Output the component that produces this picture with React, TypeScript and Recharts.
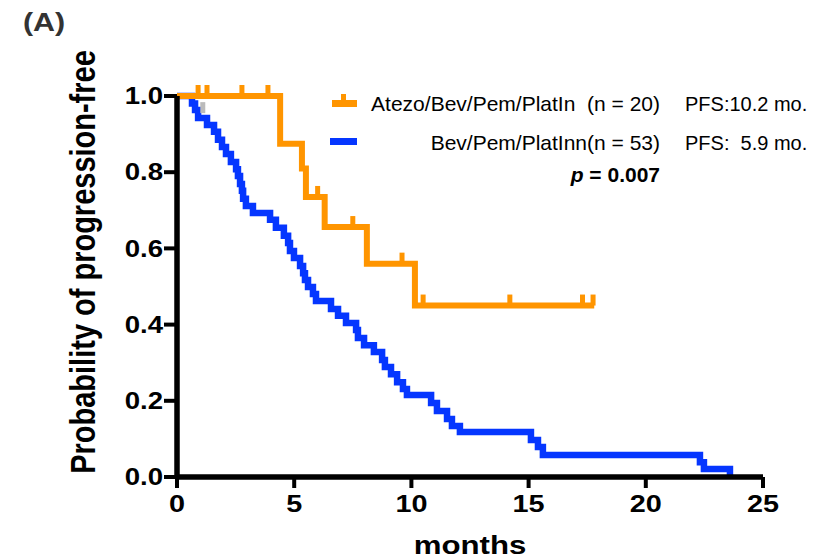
import { ComposedChart, Line, Scatter, XAxis, YAxis, Customized } from 'recharts';

// Kaplan-Meier steps: [months, survival] after each drop
const atezoTimes = [0, 4.4, 5.33, 5.5, 6.3, 8.1, 10.15, 17.8];
const atezoSurv = [1, 0.875, 0.81, 0.735, 0.656, 0.56, 0.45, 0.45];
const atezoCensorTimes = [0.9, 1.28, 2.77, 3.88, 6.0, 7.5, 9.6, 10.5, 14.2, 17.3, 17.75];
const atezoCensorSurv = [1, 1, 1, 1, 0.735, 0.656, 0.56, 0.45, 0.45, 0.45, 0.45];

const bevTimes = [
  0, 0.64, 0.77, 0.9, 1.28, 1.58, 1.75, 1.92, 2.09, 2.3, 2.52, 2.6, 2.69, 2.77, 2.82, 2.94,
  3.24, 3.97, 4.22, 4.56, 4.74, 4.82, 4.99, 5.25, 5.38, 5.46, 5.59, 5.8, 5.93, 6.57, 6.87,
  7.21, 7.64, 7.72, 7.98, 8.4, 8.75, 8.87, 9.13, 9.39, 9.64, 9.81, 10.84, 11.09, 11.52,
  11.73, 12.07, 15.1, 15.4, 15.61, 22.31, 22.48, 23.59,
];
const bevSurv = [
  1, 0.98, 0.963, 0.942, 0.924, 0.906, 0.885, 0.866, 0.848, 0.827, 0.808, 0.79, 0.769, 0.751,
  0.73, 0.711, 0.693, 0.675, 0.654, 0.633, 0.614, 0.593, 0.575, 0.554, 0.535, 0.517, 0.499,
  0.48, 0.462, 0.441, 0.423, 0.404, 0.386, 0.365, 0.346, 0.328, 0.307, 0.289, 0.27, 0.249,
  0.231, 0.215, 0.194, 0.173, 0.152, 0.134, 0.118, 0.097, 0.079, 0.058, 0.039, 0.021, 0,
];
const bevCensorTimes = [1.1];
const bevCensorSurv = [0.955];

const xTicks = [0, 5, 10, 15, 20, 25];
const yTicks = [0, 0.2, 0.4, 0.6, 0.8, 1.0];

const ORANGE = '#FF9500';
const BLUE = '#0536FF';
const FONT = '"Liberation Sans", Arial, sans-serif';

const atezoData = atezoTimes.map((t, i) => ({ t, s: atezoSurv[i] }));
const atezoCensor = atezoCensorTimes.map((t, i) => ({ t, s: atezoCensorSurv[i] }));
const bevData = bevTimes.map((t, i) => ({ t, s: bevSurv[i] }));
const bevCensor = bevCensorTimes.map((t, i) => ({ t, s: bevCensorSurv[i] }));

function censorMark(color: string) {
  return (props: any) => {
    const { cx, cy } = props;
    if (cx == null || cy == null) return <g />;
    return <rect x={cx - 2.5} y={cy - 11} width={5} height={11} fill={color} />;
  };
}

function YTick({ x, y, payload }: any) {
  return (
    <text
      transform={`translate(${x},${y}) scale(1.2,1)`}
      textAnchor="end"
      dy="0.36em"
      fontFamily={FONT}
      fontWeight="bold"
      fontSize={23}
      fill="#000"
    >
      {Number(payload.value).toFixed(1)}
    </text>
  );
}

function XTick({ x, y, payload }: any) {
  return (
    <text
      transform={`translate(${x},${y}) scale(1.2,1)`}
      textAnchor="middle"
      dy="0.72em"
      fontFamily={FONT}
      fontWeight="bold"
      fontSize={24}
      fill="#000"
    >
      {payload.value}
    </text>
  );
}

function Annotations() {
  return (
    <g fontFamily={FONT} fill="#000">
      <text transform="translate(23,31) scale(1.17,1)" fontSize={26} fontWeight="bold" fill="#333">
        (A)
      </text>
      <text
        transform="translate(95,262) rotate(-90) scale(1,1.2)"
        textAnchor="middle"
        fontSize={29}
        fontWeight="bold"
      >
        Probability of progression-free
      </text>
      <text transform="translate(470,554) scale(1.2,1)" textAnchor="middle" fontSize={26} fontWeight="bold">
        months
      </text>

      {/* legend */}
      <rect x={332} y={100} width={25} height={7} fill={ORANGE} />
      <rect x={341} y={94} width={5} height={8} fill={ORANGE} />
      <rect x={330} y={138} width={27} height={7} fill={BLUE} />
      <text x={660} y={111} textAnchor="end" fontSize={21} style={{ whiteSpace: 'pre' }}>
        {'Atezo/Bev/Pem/PlatIn  (n = 20)'}
      </text>
      <text x={660} y={150} textAnchor="end" fontSize={21} style={{ whiteSpace: 'pre' }}>
        {'Bev/Pem/PlatInn(n = 53)'}
      </text>
      <text x={660} y={182} textAnchor="end" fontSize={21} fontWeight="bold" style={{ whiteSpace: 'pre' }}>
        <tspan fontStyle="italic">p</tspan>
        {' = 0.007'}
      </text>
      <text x={685} y={111} fontSize={20} style={{ whiteSpace: 'pre' }}>
        {'PFS:10.2 mo.'}
      </text>
      <text x={685} y={150} fontSize={20} style={{ whiteSpace: 'pre' }}>
        {'PFS:  5.9 mo.'}
      </text>
    </g>
  );
}

export default function App() {
  return (
    <div style={{ position: 'absolute', left: 0, top: 0, width: 821, height: 560, background: '#fff' }}>
      <ComposedChart width={821} height={560} margin={{ top: 96, right: 58, bottom: 0, left: 0 }}>
        <XAxis
          dataKey="t"
          type="number"
          domain={[0, 25]}
          ticks={xTicks}
          height={83}
          axisLine={{ stroke: '#000', strokeWidth: 5.5 }}
          tickLine={{ stroke: '#000', strokeWidth: 4 }}
          tickSize={11}
          tickMargin={7}
          tick={<XTick />}
          allowDuplicatedCategory={false}
        />
        <YAxis
          type="number"
          domain={[0, 1]}
          ticks={yTicks}
          width={177}
          axisLine={{ stroke: '#000', strokeWidth: 5.5 }}
          tickLine={{ stroke: '#000', strokeWidth: 4 }}
          tickSize={13}
          tickMargin={1}
          tick={<YTick />}
        />
        <Line
          data={bevData}
          dataKey="s"
          type="stepAfter"
          stroke={BLUE}
          strokeWidth={6.5}
          dot={false}
          isAnimationActive={false}
        />
        <Line
          data={atezoData}
          dataKey="s"
          type="stepAfter"
          stroke={ORANGE}
          strokeWidth={6}
          dot={false}
          isAnimationActive={false}
        />
        <Scatter data={atezoCensor} dataKey="s" shape={censorMark(ORANGE)} isAnimationActive={false} />
        <Scatter data={bevCensor} dataKey="s" shape={censorMark('#BBBBBB')} isAnimationActive={false} />
        <Customized component={Annotations} />
      </ComposedChart>
    </div>
  );
}
